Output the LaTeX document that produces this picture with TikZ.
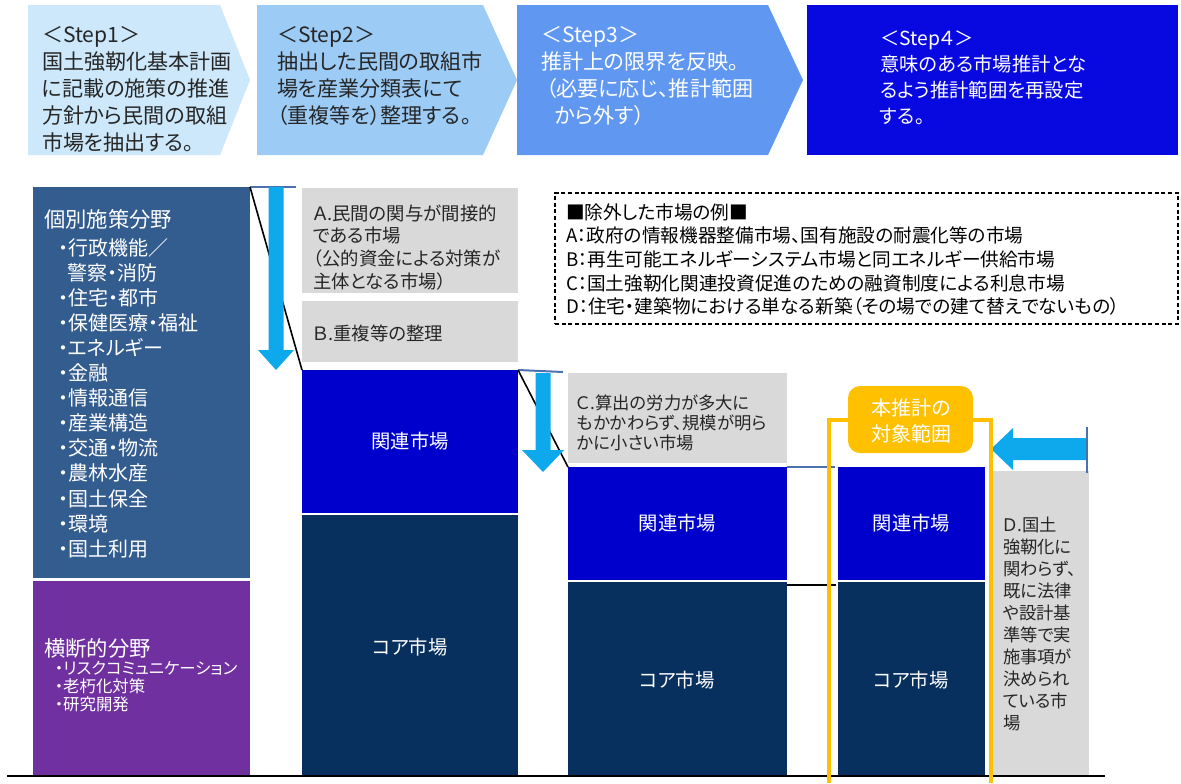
\documentclass[tikz,border=0pt]{standalone}
\usepackage{fontspec}
\setmainfont{Noto Sans CJK JP}[RawFeature=+palt]
\usetikzlibrary{fit}
\definecolor{stepa}{HTML}{CCE8FA}
\definecolor{stepb}{HTML}{9CCBF6}
\definecolor{stepc}{HTML}{6097F1}
\definecolor{stepd}{HTML}{0808E0}
\definecolor{indivc}{HTML}{335C8F}
\definecolor{crossc}{HTML}{7030A0}
\definecolor{grayb}{HTML}{D9D9D9}
\definecolor{relc}{HTML}{0000CC}
\definecolor{corec}{HTML}{07305E}
\definecolor{arrc}{HTML}{0DA9EC}
\definecolor{orc}{HTML}{FFC000}
\definecolor{thinb}{HTML}{4A72B0}
\definecolor{txtd}{HTML}{262626}
\newcommand\fsz[2]{\fontsize{#1}{#2}\selectfont}
\begin{document}
\begin{tikzpicture}[x=0.75pt,y=-0.75pt,
  blk/.style={inner sep=0pt, outer sep=0pt, draw=none},
  ln/.style={anchor=base west, inner sep=0pt, outer sep=0pt},
  mk/.style={inner sep=0pt, text=white, font=\fsz{14.5}{17}},
  thinline/.style={draw=thinb, line width=1.5pt},
  diag/.style={draw=black, line width=1.2pt},
  orline/.style={draw=orc, line width=3pt},
  blockarr/.style={fill=arrc, draw=none}]
\useasboundingbox (0,0) rectangle (1181,783);
\fill[white] (0,0) rectangle (1181,783);

% step banners
\fill[stepa] (28,5) -- (220,5) -- (250,80) -- (220,155) -- (28,155) -- cycle;
\fill[stepb] (257,5) -- (483,5) -- (517,80) -- (483,155) -- (257,155) -- cycle;
\fill[stepc] (517,5) -- (768,5) -- (803,80) -- (768,155) -- (517,155) -- cycle;
\node[blk, fill=stepd, fit={(807,5)(1178,155)}] (step4) {};

\foreach \myl [count=\i] in {＜Step1＞,国土強靭化基本計画,に記載の施策の推進,方針から民間の取組,市場を抽出する。}
  \node[ln, font=\fsz{15.8}{18}, text=txtd] (s1-\i) at (42,{42+27*(\i-1)}) {\myl};
\foreach \myl [count=\i] in {＜Step2＞,抽出した民間の取組市,場を産業分類表にて,（重複等を）整理する。}
  \node[ln, font=\fsz{15.8}{18}, text=txtd] (s2-\i) at (277,{42+27*(\i-1)}) {\myl};
\node[ln, font=\fsz{15.8}{18}, text=white] (s3-1) at (541,42) {＜Step3＞};
\node[ln, font=\fsz{15.8}{18}, text=white] (s3-2) at (541,69) {推計上の限界を反映。};
\node[ln, font=\fsz{15.8}{18}, text=white] (s3-3) at (546,96) {（必要に応じ、推計範囲};
\node[ln, font=\fsz{15.8}{18}, text=white] (s3-4) at (555,123) {から外す）};
\foreach \myl [count=\i] in {＜Step４＞,意味のある市場推計とな,るよう推計範囲を再設定,する。}
  \node[ln, font=\fsz{14.5}{17}, text=white] (s4-\i) at (880,{45+26*(\i-1)}) {\myl};

% left column
\node[blk, fill=indivc, fit={(33,187)(250,578)}] (indiv) {};
\node[blk, fill=crossc, fit={(33,581)(250,775)}] (cross) {};
\node[ln, font=\fsz{16}{19}, text=white] (indt) at (44,227) {個別施策分野};
\foreach \myl [count=\i] in {・行政機能／,,・住宅・都市,・保健医療・福祉,・エネルギー,・金融,・情報通信,・産業構造,・交通・物流,・農林水産,・国土保全,・環境,・国土利用}
  \node[ln, font=\fsz{15}{18}, text=white] (ind-\i) at (58,{255+25.1*(\i-1)}) {\myl};
\node[ln, font=\fsz{15}{18}, text=white] (ind-x) at (67,280) {警察・消防};
\node[ln, font=\fsz{16}{19}, text=white] (crt) at (44,656) {横断的分野};
\foreach \myl [count=\i] in {・リスクコミュニケーション,・老朽化対策,・研究開発}
  \node[ln, font=\fsz{12.3}{15}, text=white] (cr-\i) at (55,{674+18*(\i-1)}) {\myl};

% step2 column
\node[blk, fill=grayb, fit={(302,188)(518,293)}] (gA) {};
\node[blk, fill=grayb, fit={(302,301)(518,362)}] (gB) {};
\node[blk, fill=relc, fit={(302,370)(518,513)}] (rel2) {};
\node[blk, fill=corec, fit={(302,515)(518,775)}] (core2) {};
\foreach \myl [count=\i] in {Ａ.民間の関与が間接的,である市場,（公的資金による対策が,主体となる市場）}
  \node[ln, font=\fsz{13.8}{16}, text=txtd] (gA-\i) at (313,{220+22.7*(\i-1)}) {\myl};
\node[ln, font=\fsz{13.8}{16}, text=txtd] (gB-1) at (313,340) {Ｂ.重複等の整理};
\node[mk] (rel2t) at (rel2.center) {関連市場};
\node[mk] (core2t) at (410,647) {コア市場};

% step3 column
\node[blk, fill=grayb, fit={(568,373)(787,463)}] (gC) {};
\node[blk, fill=relc, fit={(568,467)(787,580)}] (rel3) {};
\node[blk, fill=corec, fit={(568,582)(787,775)}] (core3) {};
\foreach \myl [count=\i] in {Ｃ.算出の労力が多大に,もかかわらず、規模が明ら,かに小さい市場}
  \node[ln, font=\fsz{13}{15}, text=txtd] (gC-\i) at (577,{409+20*(\i-1)}) {\myl};
\node[mk] (rel3t) at (rel3.center) {関連市場};
\node[mk] (core3t) at (677,680) {コア市場};

% step4 column
\node[blk, fill=relc, fit={(838,467)(985,580)}] (rel4) {};
\node[blk, fill=corec, fit={(838,582)(985,775)}] (core4) {};
\node[mk] (rel4t) at (rel4.center) {関連市場};
\node[mk] (core4t) at (911,680) {コア市場};
\node[blk, fill=grayb, fit={(993,471)(1089,775)}] (gD) {};
\foreach \myl [count=\i] in {Ｄ.国土,強靭化に,関わらず、,既に法律,や設計基,準等で実,施事項が,決められ,ている市,場}
  \node[ln, font=\fsz{13}{15}, text=txtd] (gD-\i) at (1003,{531+22*(\i-1)}) {\myl};

% legend
\node[blk, draw=black, line width=0.8pt, dash pattern=on 3pt off 2pt, fit={(555,193)(1178,324)}] (legend) {};
\foreach \myl [count=\i] in {■除外した市場の例■,A：政府の情報機器整備市場、国有施設の耐震化等の市場,B：再生可能エネルギーシステム市場と同エネルギー供給市場,C：国土強靭化関連投資促進のための融資制度による利息市場,D：住宅・建築物における単なる新築（その場での建て替えでないもの）}
  \node[ln, font=\fsz{14}{16}, text=black] (lg-\i) at (566,{219+23.7*(\i-1)}) {\myl};

% connectors
\coordinate (t1e) at (296,187);
\coordinate (t2e) at (563,372);
\coordinate (t3e) at (835,467);
\coordinate (b3s) at (787,585);
\coordinate (b3e) at (836,585);
\draw[thinline] (indiv.north east) -- (t1e);
\draw[diag] (indiv.north east) -- (rel2.north west);
\draw[thinline] (rel2.north east) -- (t2e);
\draw[diag] (rel2.north east) -- (rel3.north west);
\draw[thinline] (rel3.north east) -- (t3e);
\draw[draw=black, line width=1.8pt] (b3s) -- (b3e);

\coordinate (a1s) at (276,187);
\coordinate (a1e) at (276,370);
\fill[blockarr] (a1s) ++(-7.5,0) -- ++(15,0) -- ++(0,163) -- ++(10.5,0) -- (a1e) -- ++(-18,-20) -- ++(10.5,0) -- cycle;
\coordinate (a2s) at (543,373);
\coordinate (a2e) at (543,472);
\fill[blockarr] (a2s) ++(-7.5,0) -- ++(15,0) -- ++(0,77) -- ++(13.5,0) -- (a2e) -- ++(-21,-22) -- ++(13.5,0) -- cycle;
\coordinate (a3s) at (1087,449);
\coordinate (a3e) at (991,449);
\fill[blockarr] (a3s) ++(0,-11) -- ++(-74,0) -- ++(0,-10) -- (a3e) -- ++(22,21) -- ++(0,-10) -- ++(74,0) -- cycle;
\coordinate (bar1) at (1087,427);
\coordinate (bar2) at (1087,473);
\draw[thinline] (bar1) -- (bar2);

% baseline
\coordinate (bl1) at (7,776);
\coordinate (bl2) at (1105,776);
\draw[line width=2.2pt] (bl1) -- (bl2);

% orange frame and label
\node[blk, fill=orc, rounded corners=9pt, fit={(848,386)(973,453)}] (orlab) {};
\node[inner sep=0pt, text=white, font=\fsz{15}{20}, align=center] (orlabt) at (911,421) {本推計の\\対象範囲};
\coordinate (of1) at (829,783);
\coordinate (of2) at (991,783);
\draw[orline] (of1) |- (orlab.west);
\draw[orline] (of2) |- (orlab.east);
\end{tikzpicture}
\end{document}
